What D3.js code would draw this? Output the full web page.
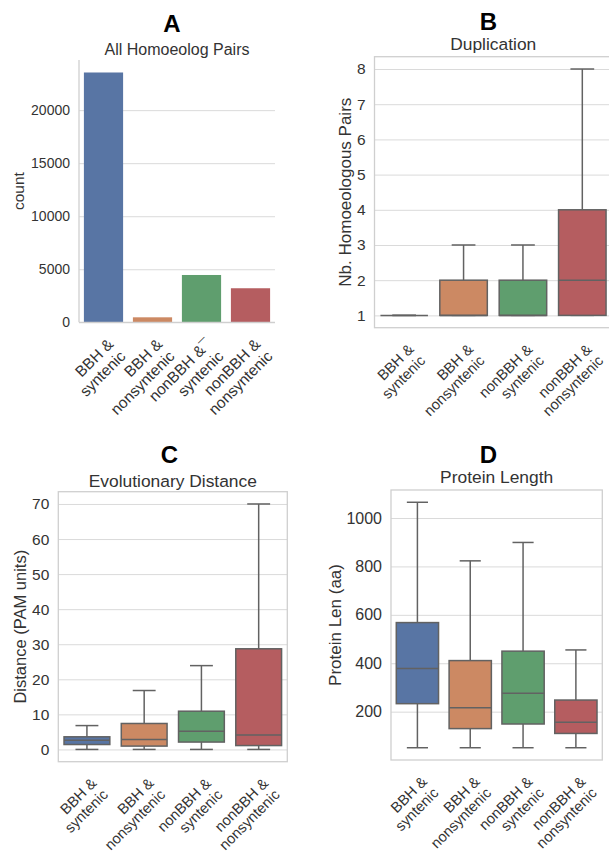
<!DOCTYPE html>
<html lang='en'>
<head>
<meta charset='UTF-8'>
<title>Homoeolog Pairs</title>
<script src='https://d3js.org/d3.v7.min.js'></script>
<style>
  body { margin: 0; background: #fff; }
  svg { display: block; font-family: 'Liberation Sans', Arial, sans-serif; }
</style>
</head>
<body>
<svg id='fig' width='609' height='852'></svg>
<script>
// x categories, two lines each (panel A has a stray mark after the third one)
const categoriesA = [['BBH &', 'syntenic'], ['BBH &', 'nonsyntenic'], ['nonBBH &\u00af', 'syntenic'], ['nonBBH &', 'nonsyntenic']]
const categories = [['BBH &', 'syntenic'], ['BBH &', 'nonsyntenic'], ['nonBBH &', 'syntenic'], ['nonBBH &', 'nonsyntenic']]
const colors = ['#5875a4', '#cc8963', '#5f9e6e', '#b55d60']

// A: counts of homoeolog pairs
const pairCounts = [23550, 470, 4460, 3210]

// B, C, D: box stats per category -> [whisker low, q1, median, q3, whisker high]
const duplication = [[1, 1, 1, 1, 1], [1, 1, 1, 2, 3], [1, 1, 1, 2, 3], [1, 1, 2, 4, 8]]
const distance = [[0, 1.4, 2.6, 3.6, 6.8], [0, 0.95, 2.85, 7.4, 16.8], [0, 2.1, 5.2, 10.9, 23.9], [0, 1.1, 4.1, 28.7, 70]]
const protLength = [[51, 233, 378, 568, 1065], [51, 130, 216, 411, 823], [51, 149, 276, 450, 899], [51, 110, 156, 248, 455]]

const countTicks = [0, 5000, 10000, 15000, 20000]
const dupTicks = [1, 2, 3, 4, 5, 6, 7, 8]
const distTicks = [0, 10, 20, 30, 40, 50, 60, 70]
const lenTicks = [200, 400, 600, 800, 1000]

const textColor = '#333'
const gridColor = '#dadada'
const spineColor = '#cfcfcf'
const lineColor = '#626262'

const svg = d3.select('#fig')

const panels = [
  { letter: 'A', title: 'All Homoeolog Pairs', ylabel: 'count', kind: 'bar', data: pairCounts, ticks: countTicks, labels: categoriesA,
    left: 79, right: 275, top: 60, bottom: 322.3, frame: false,
    letterX: 172, letterY: 31.7, titleY: 54.5, ylabelX: 19,
    tickFont: 14, labelFont: 15.5, titleFont: 16, xFont: 15.5 },
  { letter: 'B', title: 'Duplication', ylabel: 'Nb. Homoeologous Pairs', kind: 'box', data: duplication, ticks: dupTicks, labels: categories,
    left: 374.5, right: 612, top: 56.7, bottom: 327.7, frame: true,
    letterX: 488.3, letterY: 30, titleY: 49.5, ylabelX: 345,
    tickFont: 15.5, labelFont: 17, titleFont: 17.4, xFont: 14.7 },
  { letter: 'C', title: 'Evolutionary Distance', ylabel: 'Distance (PAM units)', kind: 'box', data: distance, ticks: distTicks, labels: categories,
    left: 58.3, right: 287.3, top: 491.7, bottom: 761.7, frame: true,
    letterX: 169.3, letterY: 463.3, titleY: 487, ylabelX: 20,
    tickFont: 15.5, labelFont: 16.5, titleFont: 17.4, xFont: 14.7 },
  { letter: 'D', title: 'Protein Length', ylabel: 'Protein Len (aa)', kind: 'box', data: protLength, ticks: lenTicks, labels: categories,
    left: 391, right: 602.3, top: 490, bottom: 760, frame: true,
    letterX: 488.3, letterY: 463.3, titleY: 483.3, ylabelX: 335,
    tickFont: 16, labelFont: 17, titleFont: 17.4, xFont: 14.7 }
]

panels.forEach(drawPanel)

function drawPanel(p) {
  const w = p.right - p.left, h = p.bottom - p.top
  const g = svg.append('g').attr('transform', `translate(${p.left},${p.top})`)

  const x = d3.scaleBand().domain(d3.range(p.labels.length)).range([0, w])
  let y
  if (p.kind === 'bar') {
    y = d3.scaleLinear().domain([0, d3.max(p.data) * 1.05]).range([h, 0])
  } else {
    // matplotlib style 5% margins around the whisker range
    const lo = d3.min(p.data, d => d[0]), hi = d3.max(p.data, d => d[4])
    const m = (hi - lo) * 0.05
    y = d3.scaleLinear().domain([lo - m, hi + m]).range([h, 0])
  }

  // grid + tick labels
  const ax = g.append('g')
    .call(d3.axisLeft(y).tickValues(p.ticks).tickSize(-w).tickPadding(9).tickFormat(d3.format('d')))
  ax.select('.domain').remove()
  ax.selectAll('line').attr('stroke', gridColor).attr('stroke-width', 1)
  ax.selectAll('text').attr('fill', textColor).style('font-size', p.tickFont + 'px')
    .style('font-family', "'Liberation Sans', Arial, sans-serif")

  const bw = x.bandwidth() * 0.8
  const cx = i => x(i) + x.bandwidth() / 2

  if (p.kind === 'bar') {
    g.selectAll('rect.bar').data(p.data).join('rect')
      .attr('class', 'bar')
      .attr('x', (d, i) => cx(i) - bw / 2)
      .attr('width', bw)
      .attr('y', d => y(d))
      .attr('height', d => h - y(d))
      .attr('fill', (d, i) => colors[i])
  } else {
    const box = g.selectAll('g.box').data(p.data).join('g').attr('class', 'box')
      .attr('stroke', lineColor).attr('stroke-width', 1.5)
    // whiskers
    box.append('line').attr('x1', (d, i) => cx(i)).attr('x2', (d, i) => cx(i))
      .attr('y1', d => y(d[3])).attr('y2', d => y(d[4]))
    box.append('line').attr('x1', (d, i) => cx(i)).attr('x2', (d, i) => cx(i))
      .attr('y1', d => y(d[1])).attr('y2', d => y(d[0]))
    // caps, half the box width
    box.append('line').attr('x1', (d, i) => cx(i) - bw / 4).attr('x2', (d, i) => cx(i) + bw / 4)
      .attr('y1', d => y(d[4])).attr('y2', d => y(d[4]))
    box.append('line').attr('x1', (d, i) => cx(i) - bw / 4).attr('x2', (d, i) => cx(i) + bw / 4)
      .attr('y1', d => y(d[0])).attr('y2', d => y(d[0]))
    box.append('rect')
      .attr('x', (d, i) => cx(i) - bw / 2).attr('width', bw)
      .attr('y', d => y(d[3])).attr('height', d => y(d[1]) - y(d[3]))
      .attr('fill', (d, i) => colors[i])
    // median
    box.append('line').attr('x1', (d, i) => cx(i) - bw / 2).attr('x2', (d, i) => cx(i) + bw / 2)
      .attr('y1', d => y(d[2])).attr('y2', d => y(d[2]))
  }

  // spines
  const sp = g.append('g').attr('stroke', spineColor).attr('stroke-width', 1.3).attr('fill', 'none')
  if (p.frame) {
    sp.append('rect').attr('width', w).attr('height', h)
  } else {
    sp.append('line').attr('x1', 0).attr('x2', 0).attr('y1', 0).attr('y2', h)
    sp.append('line').attr('x1', 0).attr('x2', w).attr('y1', h).attr('y2', h)
  }

  // rotated category labels, right aligned, anchored at the tick
  g.selectAll('text.xlab').data(p.labels).join('text')
    .attr('class', 'xlab')
    .attr('transform', (d, i) => `translate(${cx(i) + 3},${h + 15}) rotate(-45)`)
    .attr('text-anchor', 'end')
    .attr('fill', textColor)
    .style('font-size', p.xFont + 'px')
    .selectAll('tspan').data(d => d).join('tspan')
      .attr('x', 0)
      .attr('y', (d, j) => `${0.72 + j * 1.1}em`)
      .text(d => d)

  // y label
  svg.append('text')
    .attr('transform', `translate(${p.ylabelX},${p.top + h / 2}) rotate(-90)`)
    .attr('text-anchor', 'middle').attr('dy', '0.35em')
    .attr('fill', textColor).style('font-size', p.labelFont + 'px')
    .text(p.ylabel)

  // titles
  svg.append('text')
    .attr('x', p.left + w / 2).attr('y', p.titleY)
    .attr('text-anchor', 'middle').attr('fill', textColor)
    .style('font-size', p.titleFont + 'px')
    .text(p.title)
  svg.append('text')
    .attr('x', p.letterX).attr('y', p.letterY)
    .attr('text-anchor', 'middle').attr('fill', '#000')
    .style('font-size', '24px').style('font-weight', 'bold')
    .text(p.letter)
}
</script>
</body>
</html>
